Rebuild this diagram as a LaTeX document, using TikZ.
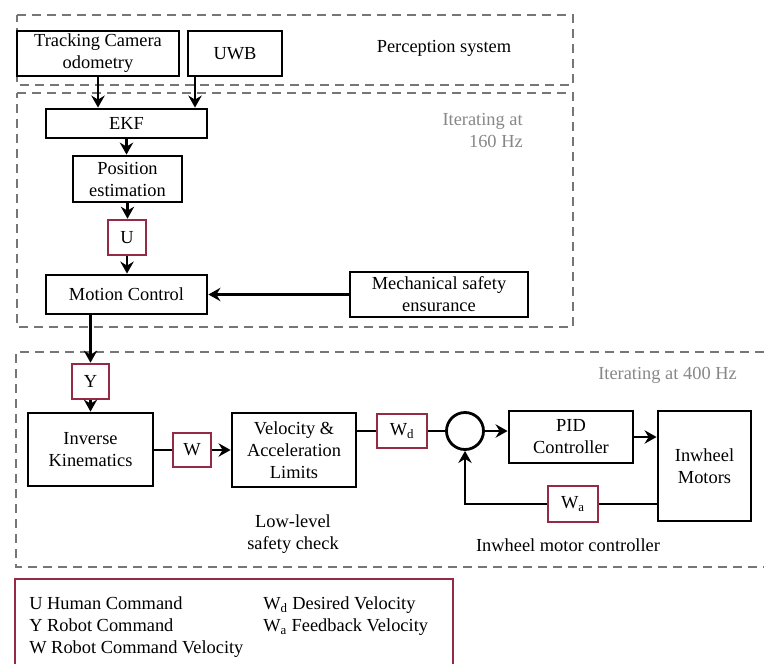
\documentclass[tikz,border=0pt]{standalone}
\usepackage{fontspec}
\setmainfont{Liberation Serif}
\usetikzlibrary{arrows.meta}

\definecolor{frameGray}{RGB}{118,118,118}
\definecolor{noteGray}{RGB}{135,135,135}
\definecolor{sigRed}{RGB}{150,42,68}

\tikzset{every picture/.style={line width=1.9pt}}
\tikzset{
  txt/.style={font=\fontsize{13.8}{16.5}\selectfont, align=center, inner sep=0pt},
  blockbox/.style={txt, draw=black, rectangle, line width=2.1pt},
  sigbox/.style={txt, draw=sigRed, rectangle, line width=2pt},
  sumnode/.style={draw=black, circle, inner sep=0pt, minimum size=27.75pt, line width=2.1pt},
  frame/.style={draw=frameGray, line width=1.8pt, dash pattern=on 6.75pt off 4.5pt},
  flow/.style={-{Stealth[length=9pt,width=10pt,inset=3pt]}},
}

\begin{document}
\begin{tikzpicture}[x=0.75pt,y=0.75pt,yscale=-1,xscale=1]
\useasboundingbox (0,0) rectangle (764,664);

%Shape: Dashed frames
\draw [frame] (17,15) -- (573,15) -- (573,85) -- (17,85) -- cycle ;
\draw [frame] (17,93) -- (573,93) -- (573,327) -- (17,327) -- cycle ;
\draw [frame] (764,352) -- (16,352) -- (16,567) -- (764,567) ;
%Shape: Legend frame
\draw [draw=sigRed, line width=2pt] (15,690) -- (15,579) -- (453,579) -- (453,690) ;

% Perception system
\draw (98,53.5) node [blockbox, minimum width=121.5, minimum height=33.75] (cam) {Tracking Camera\\odometry};
\draw (235,53.5) node [blockbox, minimum width=70.5, minimum height=33.75] (uwb) {UWB};
\draw (444,48) node [txt] (percep) {Perception system};

% 160 Hz loop
\draw (126.5,123.5) node [blockbox, minimum width=120.75, minimum height=21.75] (ekf) {EKF};
\draw (127.5,179) node [blockbox, minimum width=81.75, minimum height=34.5] (pos) {Position\\estimation};
\draw (127,237.5) node [sigbox, minimum width=28.5, minimum height=26.25] (u) {U};
\draw (126.5,294.5) node [blockbox, minimum width=120.75, minimum height=29.25] (mc) {Motion Control};
\draw (439,294.5) node [blockbox, minimum width=133.5, minimum height=33.75] (mech) {Mechanical safety\\ensurance};
\draw (524,130) node [txt, anchor=east, align=right, text=noteGray] (rate160) {Iterating at\\160 Hz};

% 400 Hz loop
\draw (90.5,381.5) node [sigbox, minimum width=27.75, minimum height=26.25] (y) {Y};
\draw (90.5,449.5) node [blockbox, minimum width=93.75, minimum height=54.75] (ik) {Inverse\\Kinematics};
\draw (192,450) node [sigbox, minimum width=28.5, minimum height=25.5] (w) {W};
\draw (294,450) node [blockbox, minimum width=93, minimum height=55.5] (val) {Velocity \&\\Acceleration\\Limits};
\draw (402,431) node [sigbox, minimum width=37.5, minimum height=25.5] (wd) {W\textsubscript{d}};
\draw (465,431) node [sumnode] (sum) {};
\draw (571,437) node [blockbox, minimum width=93, minimum height=39] (pid) {PID\\Controller};
\draw (704.5,466) node [blockbox, minimum width=69.75, minimum height=82.5] (motors) {Inwheel\\Motors};
\draw (573,504) node [sigbox, minimum width=37.5, minimum height=27] (wa) {W\textsubscript{a}};
\draw (738,375) node [txt, anchor=east, text=noteGray] (rate400) {Iterating at 400 Hz};
\draw (293,534) node [txt] (lowlvl) {Low-level\\safety check};
\draw (568,545) node [txt] (motctl) {Inwheel motor controller};

% Legend
\draw (28,627) node [txt, anchor=west, align=left] (leg1) {U Human Command\\Y Robot Command\\W Robot Command Velocity};
\draw (262,616) node [txt, anchor=west, align=left] (leg2) {W\textsubscript{d} Desired Velocity\\W\textsubscript{a} Feedback Velocity};

% Connectors
\draw [flow] (cam.south) -- (cam.south |- ekf.north) ;
\draw [flow] ([xshift=-30pt]uwb.south) -- ([xshift=-30pt]uwb.south |- ekf.north) ;
\draw [flow] (ekf.south) -- (ekf.south |- pos.north) ;
\draw [flow] (pos.south) -- (pos.south |- u.north) ;
\draw [flow] (u.south) -- (u.south |- mc.north) ;
\draw [flow] (mech.west) -- (mc.east) ;
\draw [flow] (mc.south -| y.north) -- (y.north) ;
\draw [flow] (y.south) -- (ik.north) ;
\draw (ik.east |- w.west) -- (w.west) ;
\draw [flow] (w.east) -- (val.west |- w.east) ;
\draw (val.east |- wd.west) -- (wd.west) ;
\draw (wd.east) -- (sum.west) ;
\draw [flow] (sum.east) -- (sum.east -| pid.west) ;
\draw [flow] (pid.east) -- (pid.east -| motors.west) ;
\draw (motors.west |- wa.east) -- (wa.east) ;
\draw [flow] (wa.west) -| (sum.south) ;

\end{tikzpicture}
\end{document}
